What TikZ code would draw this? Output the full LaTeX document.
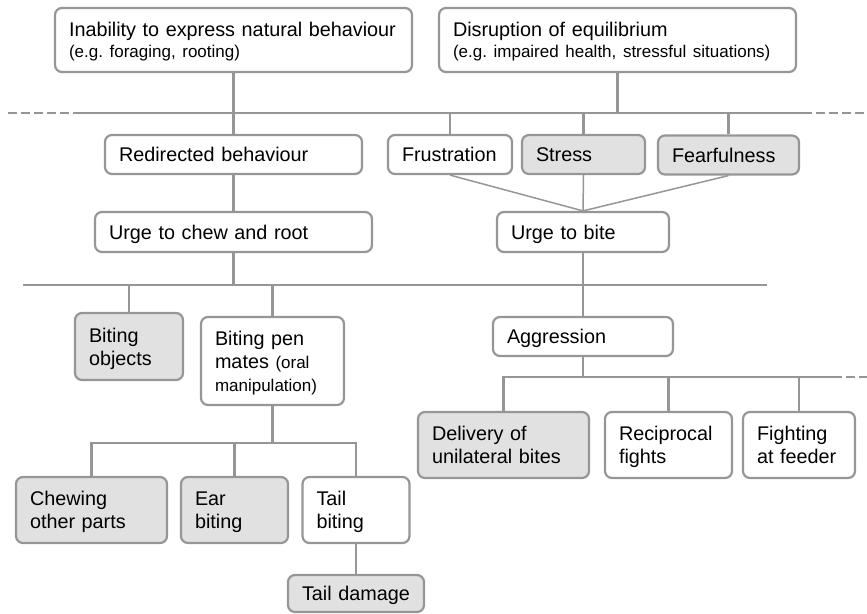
\documentclass[tikz,border=0pt]{standalone}
\usepackage{fontspec}
\setmainfont{Liberation Sans}
\definecolor{lg}{RGB}{150,150,150}
\definecolor{fillg}{RGB}{225,225,225}
\newcommand\smtxt{\fontsize{17}{21}\selectfont}
\newcommand\boxfont{\fontsize{19.8}{23}\selectfont\frenchspacing}
\tikzset{
 box/.style={draw=lg, line width=2.2pt, rounded corners=7pt, fill=white, inner xsep=14pt, inner ysep=0pt, align=left, font=\boxfont, text=black, text height=14.2pt, text depth=0pt},
 greybox/.style={box, fill=fillg},
 twolines/.style={text depth=23pt},
 threelines/.style={text depth=46pt},
 toplines/.style={text depth=21pt},
 conn/.style={draw=lg, line width=2.5pt},
 thinconn/.style={draw=lg, line width=1.5pt},
 dashconn/.style={conn, dash pattern=on 9pt off 4pt},
}
\begin{document}
\begin{tikzpicture}[x=1pt,y=-1pt]
\useasboundingbox (0,0) rectangle (867,613);
% nodes
\node[box, toplines, text width=329pt, minimum height=64pt] (inab) at (233.5,40) {Inability~to~express~natural~behaviour\\[-2pt]{\smtxt (e.g.~foraging,~rooting)}};
\node[box, toplines, text width=329pt, minimum height=64pt] (disr) at (617.5,40) {Disruption~of~equilibrium\\[-2pt]{\smtxt (e.g.~impaired~health,~stressful~situations)}};
\node[box, text width=229pt, minimum height=39pt] (redir) at (233.5,154.5) {Redirected behaviour};
\node[box, text width=96pt, minimum height=39pt] (frus) at (450,154.5) {Frustration};
\node[greybox, text width=95pt, minimum height=39pt] (stress) at (583.5,154.5) {Stress};
\node[greybox, text width=113pt, minimum height=39pt] (fear) at (728.5,155) {Fearfulness};
\node[box, text width=249pt, minimum height=40pt] (uchew) at (233.5,232) {Urge to chew and root};
\node[box, text width=144pt, minimum height=40pt] (ubite) at (583,232) {Urge to bite};
\node[greybox, twolines, text width=80pt, minimum height=67pt] (bobj) at (129,346.5) {Biting\\objects};
\node[box, threelines, text width=115pt, minimum height=88pt] (bpen) at (272.5,361) {Biting pen\\mates~{\smtxt (oral}\\{\smtxt manipulation)}};
\node[box, text width=152pt, minimum height=39pt] (aggr) at (583,336.5) {Aggression};
\node[greybox, twolines, text width=143pt, minimum height=66pt] (deliv) at (503.5,445) {Delivery~of\\unilateral~bites};
\node[box, twolines, text width=99pt, minimum height=66pt] (recip) at (668.5,445) {Reciprocal\\fights};
\node[box, twolines, text width=84pt, minimum height=66pt] (fight) at (799,445) {Fighting\\at~feeder};
\node[greybox, twolines, text width=123pt, minimum height=66pt] (chew) at (91.5,510) {Chewing\\other~parts};
\node[greybox, twolines, text width=79pt, minimum height=66pt] (ear) at (234.5,510) {Ear\\biting};
\node[box, twolines, text width=79pt, minimum height=66pt] (tailb) at (356,510) {Tail\\biting};
\node[greybox, text width=108pt, minimum height=37pt] (taild) at (356,593.5) {Tail~damage};
% junction coordinates
\coordinate (l1a) at (8,113);
\coordinate (l1b) at (75,113);
\coordinate (l1c) at (803,113);
\coordinate (l1d) at (867,113);
\coordinate (l2a) at (23,285);
\coordinate (l2b) at (767,285);
\coordinate (j3) at (583,377);
\coordinate (l3c) at (833,377);
\coordinate (l3d) at (867,377);
\coordinate (j4) at (272.5,443);
% level 1
\draw[dashconn] (l1a) -- (l1b);
\draw[conn] (l1b) -- (l1c);
\draw[dashconn] (l1c) -- (l1d);
\draw[conn] (inab.south) -- (redir.north);
\draw[conn] (disr.south) -- (disr.south |- l1b);
\draw[conn] (frus.north |- l1b) -- (frus.north);
\draw[conn] (stress.north |- l1b) -- (stress.north);
\draw[conn] (fear.north |- l1b) -- (fear.north);
% to urge to bite
\draw[thinconn] (frus.south) -- (ubite.north);
\draw[thinconn] (stress.south) -- (ubite.north);
\draw[thinconn] (fear.south) -- (ubite.north);
\draw[conn] (redir.south) -- (uchew.north);
% level 2
\draw[conn] (l2a) -- (l2b);
\draw[conn] (uchew.south) -- (uchew.south |- l2a);
\draw[conn] (ubite.south) -- (aggr.north);
\draw[conn] (bobj.north |- l2a) -- (bobj.north);
\draw[conn] (bpen.north |- l2a) -- (bpen.north);
% level 3
\draw[conn] (aggr.south) -- (j3);
\draw[conn] (deliv.north) |- (l3c);
\draw[dashconn] (l3c) -- (l3d);
\draw[conn] (recip.north |- j3) -- (recip.north);
\draw[conn] (fight.north |- j3) -- (fight.north);
% level 4
\draw[conn] (bpen.south) -- (j4);
\draw[conn] (chew.north) |- (j4) -| (tailb.north);
\draw[conn] (ear.north |- j4) -- (ear.north);
\draw[conn] (tailb.south) -- (taild.north);
\end{tikzpicture}
\end{document}
